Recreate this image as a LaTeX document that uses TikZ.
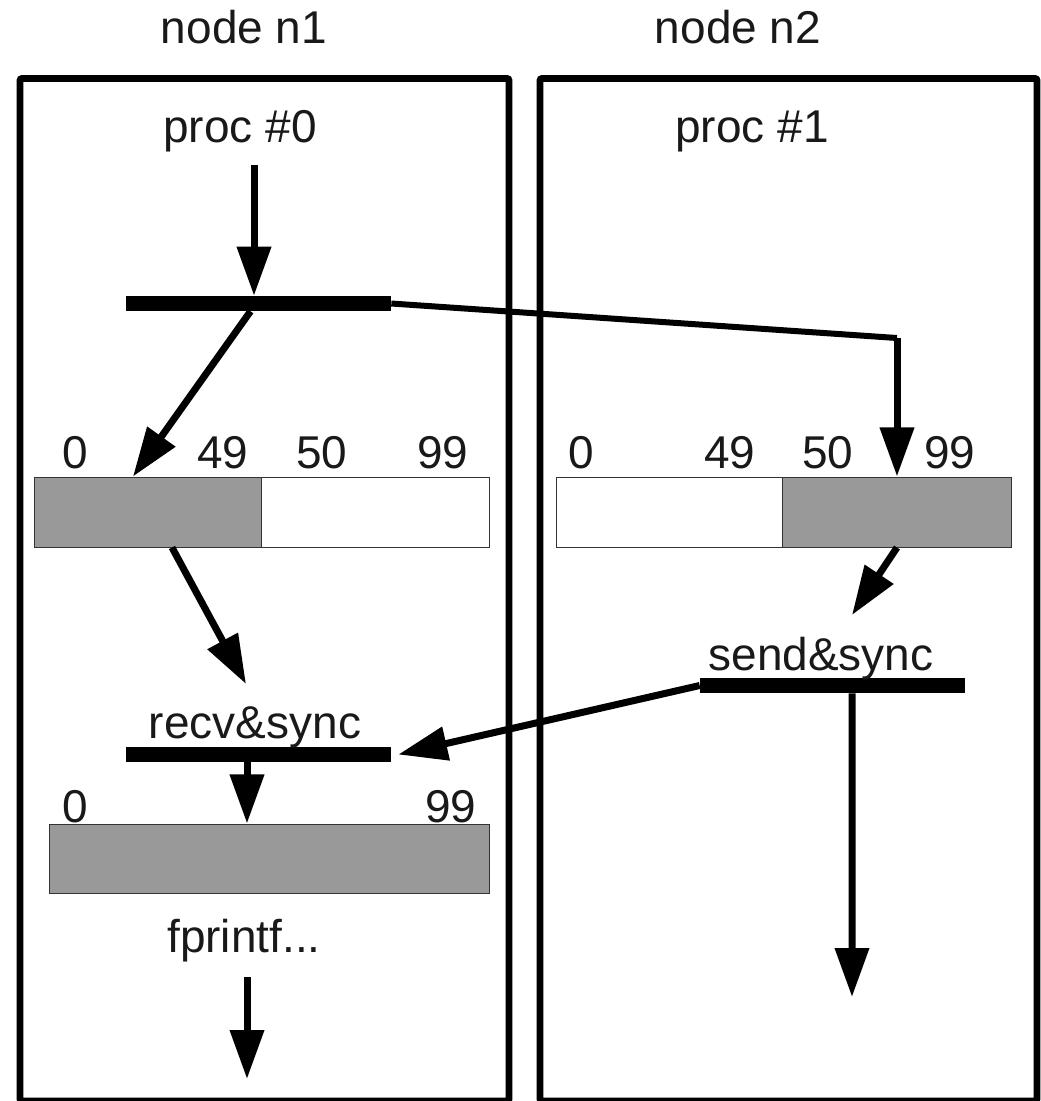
\documentclass[tikz,border=0pt]{standalone}
\usepackage{fontspec}
\setmainfont{Liberation Sans}
\usetikzlibrary{positioning,arrows.meta,calc}
\definecolor{cellgray}{HTML}{999999}
\definecolor{celledge}{HTML}{333333}

\tikzset{
  lbl/.style={font=\fontsize{32.7}{39}\selectfont, inner sep=0pt, anchor=base, text=black!90},
  frame/.style={line width=0.17cm, rounded corners=0.05cm},
  syncbar/.style={fill=black, draw=none, minimum width=6.625cm, minimum height=0.375cm, inner sep=0pt},
  cell/.style={draw=celledge, line width=0.7pt, minimum height=1.75cm, inner sep=0pt},
  flow/.style={line width=0.175cm, -{Triangle[length=1.225cm,width=0.825cm]}},
  link/.style={line width=0.15cm, line join=miter},
}

\begin{document}
\begin{tikzpicture}[x=0.025cm, y=-0.025cm]
  \useasboundingbox (0,0) rectangle (1041,1101);

  % Los dos nodos de c\'omputo
  \draw[frame] (20,78.5) rectangle (509,1101);
  \draw[frame] (540,78.5) rectangle (1037,1101);
  \node[lbl] (n1lbl) at (244,43) {node n1};
  \node[lbl] (n2lbl) at (738,43) {node n2};
  \node[lbl] (proc0) at (240,142) {proc \#0};
  \node[lbl] (proc1) at (752,142) {proc \#1};

  % Barras de sincronizaci\'on
  \node[syncbar] (fork) at (258.5,303.5) {};
  \node[syncbar] (recv) at (258.5,754.5) {};
  \node[syncbar] (send) at (832.5,685.5) {};
  \node[lbl] (recvlbl) at (255,738) {recv\&sync};
  \node[lbl] (sendlbl) at (821,670) {send\&sync};

  % Vectores (0..49 | 50..99)
  \node[cell, fill=cellgray, minimum width=5.675cm] (a1lo) at (148.5,512) {};
  \node[cell, fill=white, minimum width=5.675cm] (a1hi) at (375.5,512) {};
  \node[cell, fill=white, minimum width=5.65cm] (a2lo) at (670,512) {};
  \node[cell, fill=cellgray, minimum width=5.7cm] (a2hi) at (897,512) {};
  \node[cell, fill=cellgray, minimum width=10.975cm, minimum height=1.725cm] (a3) at (269.5,858.5) {};

  % Indices
  \foreach \t/\x in {0/75, 49/223, 50/322, 99/443}{
    \node[lbl] (l\t) at (\x,468) {\t};
  }
  \foreach \t/\x in {0/581, 49/730, 50/828, 99/950}{
    \node[lbl] (r\t) at (\x,468) {\t};
  }
  \node[lbl] (b0) at (75,822) {0};
  \node[lbl] (b99) at (451,822) {99};
  \node[lbl] (out) at (244,952) {fprintf...};

  % Puntos libres de las flechas
  \coordinate (start0) at (254,165);
  \coordinate (turn) at (897,338);
  \coordinate (join0) at (246,684);
  \coordinate (join1) at (852,615);
  \coordinate (end1) at (852,997);
  \coordinate (start2) at (247,977);
  \coordinate (end0) at (247,1079);

  % Flujo de control
  \draw[flow] (start0) -- (start0 |- fork.north);
  \draw[flow] ($(fork.south)+(-8,0)$) -- ($(a1lo.north)+(-15.5,0)$);
  \draw[link] (fork.east) -- (turn);
  \draw[flow] (turn) -- (a2hi.north);
  \draw[flow] ($(a1lo.south)+(23.5,0)$) -- (join0);
  \draw[flow] (a2hi.south) -- (join1);
  \draw[flow] (send.west) -- ($(recv.east)+(7,0)$);
  \draw[flow] ($(recv.south)+(-11.5,0)$) -- ($(a3.north)+(-22.5,0)$);
  \draw[flow] ($(send.south)+(19.5,0)$) -- (end1);
  \draw[flow] (start2) -- (end0);
\end{tikzpicture}
\end{document}
